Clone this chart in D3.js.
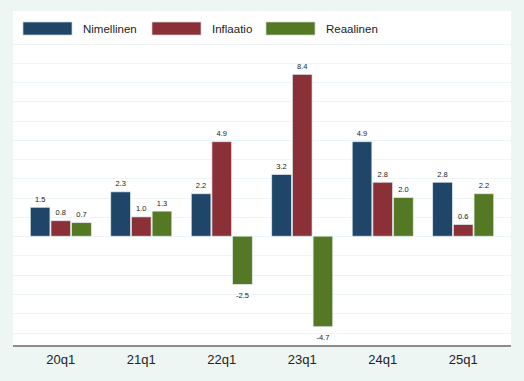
<!DOCTYPE html>
<html>
<head>
<meta charset="utf-8">
<script src="https://cdn.jsdelivr.net/npm/d3@7"></script>
<style>
  body { margin: 0; background: #eef6f4; }
  svg { display: block; font-family: "Liberation Sans", Arial, sans-serif; }
</style>
</head>
<body>
<svg class="chart"></svg>
<script>
// data
var quarters = ['20q1', '21q1', '22q1', '23q1', '24q1', '25q1'];
var series = ['Nimellinen', 'Inflaatio', 'Reaalinen'];
var nimellinen = [1.5, 2.3, 2.2, 3.2, 4.9, 2.8];
var inflaatio = [0.8, 1.0, 4.9, 8.4, 2.8, 0.6];
var reaalinen = [0.7, 1.3, -2.5, -4.7, 2.0, 2.2];
var colors = ['#1f4669', '#8b3037', '#547824'];

var values = [nimellinen, inflaatio, reaalinen];
var rows = [];
quarters.forEach(function(q, i) {
  series.forEach(function(s, j) {
    rows.push({ quarter: q, series: s, idx: j, value: values[j][i] });
  });
});

// chart
var width = 524;
var height = 381;
var panel = { left: 13, right: 511, top: 11, bottom: 346 };

var chart = d3.select('.chart')
    .attr('width', width)
    .attr('height', height);

chart.append('rect')
    .attr('x', panel.left)
    .attr('y', panel.top)
    .attr('width', panel.right - panel.left)
    .attr('height', panel.bottom - panel.top)
    .attr('fill', '#ffffff');

var x = d3.scaleBand()
    .domain(quarters)
    .range([panel.left, panel.right])
    .paddingInner(0.242)
    .paddingOuter(0.215);

var xs = d3.scaleBand()
    .domain(series)
    .range([0, x.bandwidth()])
    .paddingInner(0.05);

var y = d3.scaleLinear()
    .domain([-5.7, 10])
    .range([panel.bottom, 43.5]);

// gridlines
chart.append('g')
    .selectAll('line')
    .data(d3.range(-5, 11))
    .enter().append('line')
    .attr('x1', panel.left)
    .attr('x2', panel.right)
    .attr('y1', function(d) { return Math.round(y(d)) + 0.5; })
    .attr('y2', function(d) { return Math.round(y(d)) + 0.5; })
    .attr('stroke', '#edf6f4')
    .attr('stroke-width', 1);

// bars
chart.append('g')
    .selectAll('rect')
    .data(rows)
    .enter().append('rect')
    .attr('x', function(d) { return x(d.quarter) + xs(d.series); })
    .attr('width', xs.bandwidth())
    .attr('y', function(d) { return y(Math.max(0, d.value)); })
    .attr('height', function(d) { return Math.abs(y(d.value) - y(0)); })
    .attr('fill', function(d) { return colors[d.idx]; })
    .attr('stroke', '#dde8ee')
    .attr('stroke-width', 0.7);

// value labels
chart.append('g')
    .selectAll('text')
    .data(rows)
    .enter().append('text')
    .attr('x', function(d) { return x(d.quarter) + xs(d.series) + xs.bandwidth() / 2; })
    .attr('y', function(d) {
      return d.value >= 0 ? y(d.value) - 5.5 : y(d.value) + 13.5;
    })
    .attr('text-anchor', 'middle')
    .attr('font-size', 7.5)
    .attr('fill', '#1a1a1a')
    .text(function(d) { return d.value.toFixed(1); });

// x axis
var xAxis = d3.axisBottom(x).tickSize(0).tickPadding(9);
var gx = chart.append('g')
    .attr('transform', 'translate(0,' + panel.bottom + ')')
    .call(xAxis);
gx.select('.domain').remove();
gx.selectAll('text')
    .attr('font-size', 13)
    .attr('fill', '#222');
chart.append('line')
    .attr('x1', panel.left)
    .attr('x2', panel.right)
    .attr('y1', panel.bottom)
    .attr('y2', panel.bottom)
    .attr('stroke', '#8a8e8d')
    .attr('stroke-width', 2);

// legend
var legendX = [23, 152, 266];
var legend = chart.append('g')
    .selectAll('g')
    .data(series)
    .enter().append('g')
    .attr('transform', function(d, i) { return 'translate(' + legendX[i] + ',22)'; });
legend.append('rect')
    .attr('width', 49)
    .attr('height', 13)
    .attr('fill', function(d, i) { return colors[i]; })
    .attr('stroke', '#c8d6dc')
    .attr('stroke-width', 0.7);
legend.append('text')
    .attr('x', 60)
    .attr('y', 10.5)
    .attr('font-size', 11.5)
    .attr('fill', '#222')
    .text(function(d) { return d; });
</script>
</body>
</html>
